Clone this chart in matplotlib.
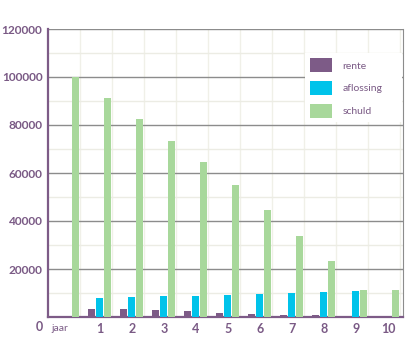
import numpy as np
import matplotlib.pyplot as plt
from matplotlib.patches import Rectangle
from matplotlib.ticker import MultipleLocator

# data
labels = ['jaar', '1', '2', '3', '4', '5', '6', '7', '8', '9', '10']
rente = [0, 3300, 3300, 2800, 2500, 1800, 1250, 800, 700, 400, 0]
aflossing = [0, 7800, 8300, 8900, 8900, 9200, 9700, 10100, 10400, 11000, 0]
schuld = [100000, 91400, 82600, 73500, 64600, 55000, 44600, 33700, 23300, 11300, 11300]

purple = '#7d5b87'
blue = '#00c3ea'
green = '#a8d89b'
txt = '#7a5a85'

plt.rcParams['font.family'] = ['Lato', 'DejaVu Sans']

fig = plt.figure(figsize=(4.12, 3.53), dpi=100)
ax = fig.add_axes([48/412, 1-317/353, 355/412, 288/353])

x = np.arange(len(labels))
w = 7/32
ax.bar(x - 0.25, rente, w, color=purple, label='rente', zorder=3)
ax.bar(x, aflossing, w, color=blue, label='aflossing', zorder=3)
ax.bar(x + 0.25, schuld, w, color=green, label='schuld', zorder=3)

ax.set_xlim(-0.625, 10.47)
ax.set_ylim(0, 120000)

ax.yaxis.set_minor_locator(MultipleLocator(10000))
ax.set_yticks(np.arange(20000, 120001, 20000))
ax.set_yticklabels([str(v) for v in range(20000, 120001, 20000)])
ax.grid(axis='y', which='major', color='#8c8c8c', lw=1, zorder=1)
ax.grid(axis='y', which='minor', color='#ecece4', lw=1, zorder=0)
ax.set_xticks(x + 0.375, minor=True)
ax.grid(axis='x', which='minor', color='#f0f0e8', lw=1, zorder=0)

ax.set_xticks(x)
ax.set_xticklabels([''] * len(labels))
ax.tick_params(axis='both', which='both', length=0)
ax.tick_params(axis='y', pad=4, labelsize=8.6, labelcolor=txt)
for lab in ax.get_yticklabels():
    lab.set_fontweight('bold')

for i, l in enumerate(labels):
    if l == 'jaar':
        ax.text(i - 0.25, -4800, l, ha='center', va='center', fontsize=7.5, color=txt)
    else:
        ax.text(i, -4800, l, ha='center', va='center', fontsize=9, color=txt,
                fontweight='bold')
ax.text(-0.78, -4300, '0', ha='right', va='center', fontsize=9, color=txt,
        fontweight='bold')

for s in ['left', 'bottom']:
    ax.spines[s].set_color(purple)
    ax.spines[s].set_linewidth(1.6)
ax.spines['right'].set_color('#8c8c8c')
ax.spines['top'].set_visible(False)

# white box behind legend
ax.add_patch(Rectangle((0.724, 0.677), 0.274, 0.24, transform=ax.transAxes,
                       facecolor='white', edgecolor='none', zorder=4))
leg = ax.legend(loc='upper left', bbox_to_anchor=(0.724, 0.917), borderaxespad=0,
                fontsize=7.5, frameon=False, handlelength=2.1, handleheight=1.7,
                labelspacing=0.85, handletextpad=1.0, borderpad=0.5)
for t in leg.get_texts():
    t.set_color(txt)
leg.set_zorder(5)

fig.savefig('out.png', dpi=100)
